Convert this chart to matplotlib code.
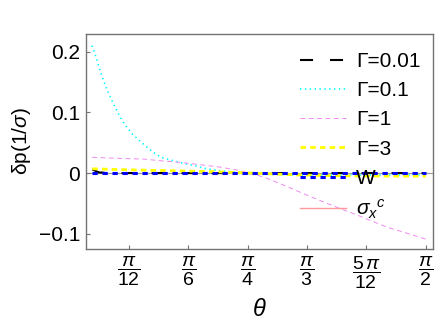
import numpy as np
import matplotlib
matplotlib.use("Agg")
import matplotlib.pyplot as plt

plt.rcParams['font.family'] = ['Liberation Sans', 'DejaVu Sans']
plt.rcParams['mathtext.fontset'] = 'custom'
plt.rcParams['mathtext.rm'] = 'Liberation Sans'
plt.rcParams['mathtext.it'] = 'Liberation Sans:italic'
plt.rcParams['lines.scale_dashes'] = False

# values
th_001 = [0.10, 0.13, 0.20, 0.60, 1.00, 1.571]
v_001 = [0.006, 0.001, 0.0, 0.0, 0.0, 0.0]

th_01 = [0.099, 0.116, 0.131, 0.149, 0.168, 0.190, 0.215, 0.241, 0.275, 0.312,
         0.356, 0.403, 0.451, 0.501, 0.554, 0.604, 0.660, 0.711, 0.770, 0.85,
         1.0, 1.2, 1.4, 1.571]
v_01 = [0.210, 0.192, 0.173, 0.153, 0.135, 0.117, 0.098, 0.081, 0.065, 0.052,
        0.038, 0.026, 0.021, 0.016, 0.012, 0.007, 0.004, 0.002, 0.0, -0.002,
        -0.003, -0.003, -0.003, -0.003]

th_1 = [0.10, 0.234, 0.329, 0.41, 0.491, 0.579, 0.66, 0.748, 0.836, 0.869,
        0.957, 1.06, 1.162, 1.28, 1.398, 1.486, 1.571]
v_1 = [0.026, 0.024, 0.023, 0.020, 0.0175, 0.0137, 0.010, 0.0044, -0.0044, -0.0084,
       -0.022, -0.0385, -0.054, -0.071, -0.089, -0.099, -0.109]

th_3 = [0.10, 0.3, 0.5, 0.66, 0.8, 1.0, 1.2, 1.4, 1.571]
v_3 = [0.007, 0.005, 0.0035, 0.002, 0.0, -0.003, -0.0045, -0.005, -0.005]

th_w = [0.10, 0.5, 1.0, 1.571]
v_w = [0.0, 0.0, 0.0, 0.0]

xticks = [np.pi/12, np.pi/6, np.pi/4, np.pi/3, 5*np.pi/12, np.pi/2]
xlabels = [r'$\dfrac{\pi}{12}$', r'$\dfrac{\pi}{6}$', r'$\dfrac{\pi}{4}$',
           r'$\dfrac{\pi}{3}$', r'$\dfrac{5\,\pi}{12}$', r'$\dfrac{\pi}{2}$']
yticks = [-0.1, 0, 0.1, 0.2]
ylabels = ['\u22120.1', '0', '0.1', '0.2']

fig = plt.figure(figsize=(4.36, 3.22), dpi=100)
ax = fig.add_axes([0.197, 0.227, 0.796, 0.667])

ax.axhline(0, color='0.6', lw=0.8, zorder=1)
ax.plot(th_001, v_001, color='black', lw=1.5, dashes=(9.4, 12.2), label='\u0393=0.01')
ax.plot(th_01, v_01, color='#00ffff', lw=1.2, dashes=(1.0, 2.5), label='\u0393=0.1')
ax.plot(th_1, v_1, color='#f08af0', lw=0.7, dashes=(3.5, 2.5), label='\u0393=1')
ax.plot(th_3, v_3, color='#ffff00', lw=2.0, dashes=(4.0, 3.0), label='\u0393=3')
ax.plot(th_w, v_w, color='#0000ff', lw=2.2, dashes=(3.8, 3.4), label='W')
ax.plot([], [], color='#ff9999', lw=1.0, label=r'$\sigma_x{}^c$')

ax.set_xlim(0.072, 1.602)
ax.set_ylim(-0.125, 0.229)
ax.set_xticks(xticks, xlabels, fontsize=14)
ax.set_yticks(yticks, ylabels, fontsize=15)
ax.tick_params(direction='in', length=3, color='0.45', pad=4)
for s in ax.spines.values():
    s.set_color('0.45')
    s.set_linewidth(1.0)

ax.set_xlabel(r'$\theta$', fontsize=17, labelpad=6)
ax.set_ylabel(r'$\mathrm{\delta p(1/}\sigma\mathrm{)}$', fontsize=15, labelpad=4)

fig.legend(loc='upper left', bbox_to_anchor=(300/436, 1 - 52/322), frameon=False,
           fontsize=15, handlelength=2.2, handletextpad=0.5, labelspacing=0.49,
           borderpad=0, borderaxespad=0)

fig.savefig('out.png', dpi=100)
